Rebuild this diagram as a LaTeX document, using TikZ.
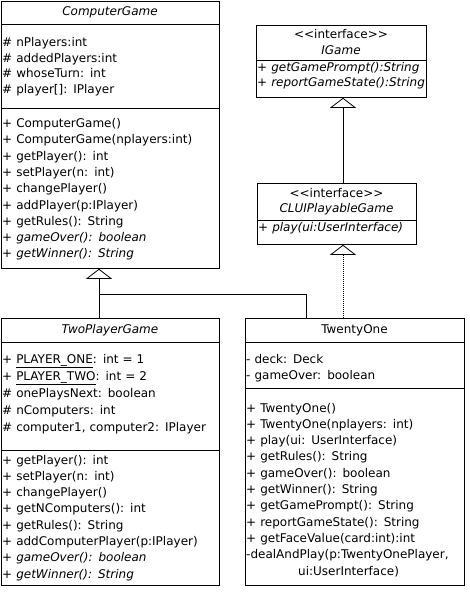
\documentclass[tikz,border=0pt]{standalone}
\usepackage{fontspec}
\setmainfont{DejaVu Sans}
\usetikzlibrary{arrows.meta,positioning}

\begin{document}
\begin{tikzpicture}[x=1pt,y=-1pt,font=\fontsize{12}{16.3}\selectfont,
	box/.style={draw,line width=.8pt,inner sep=0pt,anchor=north west},
	sep/.style={line width=.8pt},
	lines/.style={anchor=base west,text width=260pt,align=left,inner sep=0pt},
	tight/.style={font=\fontsize{12}{15.6}\selectfont},
	loose/.style={font=\fontsize{12}{17}\selectfont},
	inherit/.style={line width=.8pt,-{Triangle[open,width=26pt,length=10pt]}},
	realize/.style={inherit,dash pattern=on 1pt off 1pt}]
	\useasboundingbox (0,0) rectangle (470,600);

	\node[box,minimum width=218pt,minimum height=267pt] (cg) at (1,1) {};
	\node[box,minimum width=170pt,minimum height=72pt] (igame) at (256,25) {};
	\node[box,minimum width=159pt,minimum height=61pt] (clui) at (257,183) {};
	\node[box,minimum width=218pt,minimum height=267pt] (tpg) at (1,318) {};
	\node[box,minimum width=219pt,minimum height=267pt] (tone) at (245,318) {};

	\draw[sep] (cg.west |- 0,24) -- (cg.east |- 0,24);
	\draw[sep] (cg.west |- 0,108) -- (cg.east |- 0,108);
	\draw[sep] (igame.west |- 0,60) -- (igame.east |- 0,60);
	\draw[sep] (clui.west |- 0,220) -- (clui.east |- 0,220);
	\draw[sep] (tpg.west |- 0,342) -- (tpg.east |- 0,342);
	\draw[sep] (tpg.west |- 0,450) -- (tpg.east |- 0,450);
	\draw[sep] (tone.west |- 0,342) -- (tone.east |- 0,342);
	\draw[sep] (tone.west |- 0,388) -- (tone.east |- 0,388);

	\node (cg-name) at (110,12.5) {\textit{ComputerGame}};
	\node[lines,tight] (cg-attr) at (2,46.5) {\# nPlayers:int\\\# addedPlayers:int\\\# whoseTurn: int\\\# player[]: IPlayer};
	\node[lines] (cg-ops) at (2,127.5) {+ ComputerGame()\\+ ComputerGame(nplayers:int)\\+ getPlayer(): int\\+ setPlayer(n: int)\\+ changePlayer()\\+ addPlayer(p:IPlayer)\\+ getRules(): String\\+ \textit{gameOver(): boolean}\\+ \textit{getWinner(): String}};

	\node (igame-kind) at (341,34) {<\kern0pt<interface>\kern0pt>};
	\node (igame-name) at (341,50) {\textit{IGame}};
	\node[lines,tight] (igame-ops) at (257,71) {+ \textit{getGamePrompt():String}\\+ \textit{reportGameState():String}};

	\node (clui-kind) at (336.5,193) {<\kern0pt<interface>\kern0pt>};
	\node (clui-name) at (336.5,209) {\textit{CLUIPlayableGame}};
	\node[lines] (clui-ops) at (258,231) {+ \textit{play(ui:UserInterface)}};

	\node (tpg-name) at (110,330) {\textit{TwoPlayerGame}};
	\node[lines,loose] (tpg-attr) at (2,363) {+ \underline{PLAYER\_ONE}: int = 1\\+ \underline{PLAYER\_TWO}: int = 2\\\# onePlaysNext: boolean\\\# nComputers: int\\\# computer1, computer2: IPlayer};
	\node[lines] (tpg-ops) at (2,464) {+ getPlayer(): int\\+ setPlayer(n: int)\\+ changePlayer()\\+ getNComputers(): int\\+ getRules(): String\\+ addComputerPlayer(p:IPlayer)\\+ \textit{gameOver(): boolean}\\+ \textit{getWinner(): String}};

	\node (tone-name) at (354.5,330) {TwentyOne};
	\node[lines] (tone-attr) at (246,363) {- deck: Deck\\- gameOver: boolean};
	\node[lines] (tone-ops) at (246,412) {+ TwentyOne()\\+ TwentyOne(nplayers: int)\\+ play(ui: UserInterface)\\+ getRules(): String\\+ gameOver(): boolean\\+ getWinner(): String\\+ getGamePrompt(): String\\+ reportGameState(): String\\+ getFaceValue(card:int):int\\-dealAndPlay(p:TwentyOnePlayer,\\\hspace*{52pt}ui:UserInterface)};

	\coordinate (join) at (99,294);
	\draw[inherit] (tpg.north -| join) -- (cg.south -| join);
	\draw[sep] (tone.north -| 306,0) |- (join);
	\draw[realize] (tone.north -| 343,0) -- (clui.south -| 343,0);
	\draw[inherit] (clui.north -| 343,0) -- (igame.south -| 343,0);

\end{tikzpicture}
\end{document}
